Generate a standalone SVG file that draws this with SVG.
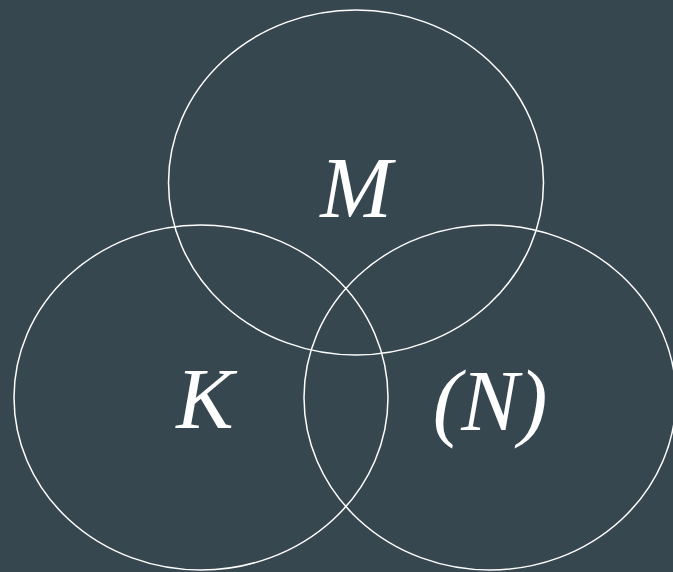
<svg xmlns="http://www.w3.org/2000/svg" width="673" height="572" viewBox="0 0 673 572">
<style>
.set{fill:none;stroke:#ffffff;stroke-width:1.5}
.lbl{fill:#ffffff;font-family:"Liberation Serif","Times New Roman",serif;font-style:italic;font-size:86px;text-anchor:middle}
</style>
<rect width="673" height="572" fill="#37474f"/>
<g id="M"><ellipse class="set" cx="356" cy="182.5" rx="187.5" ry="172.5"/><text class="lbl" x="356" y="217">M</text></g>
<g id="K"><ellipse class="set" cx="201" cy="397.5" rx="187" ry="172.5"/><text class="lbl" x="205" y="428">K</text></g>
<g id="N"><ellipse class="set" cx="490" cy="397.5" rx="186" ry="172.5"/><text class="lbl" x="490" y="430">(N)</text></g>
<g id="connectors"/>
</svg>
